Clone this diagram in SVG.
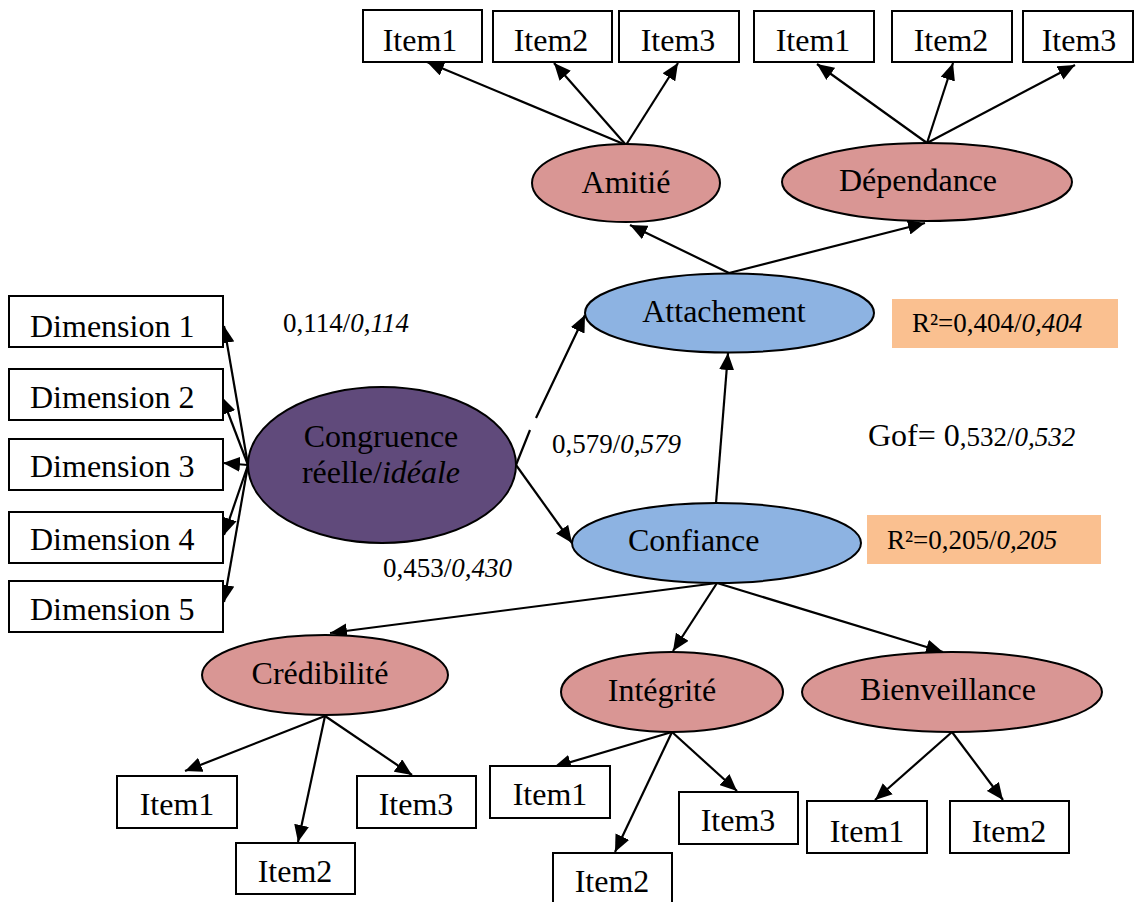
<svg xmlns="http://www.w3.org/2000/svg" width="1135" height="902" viewBox="0 0 1135 902">
<style>
text{font-family:"Liberation Serif","Times New Roman",serif;fill:#000}
.box{fill:#fff;stroke:#000;stroke-width:2}
.ell{stroke:#000;stroke-width:2}
.pink{fill:#D99694}
.blue{fill:#8DB3E2}
.purple{fill:#604A7B}
.r2{fill:#FAC090}
.t{font-size:32px;text-anchor:middle}
.ts{font-size:32px}
.lbl{font-size:27px}
.it{font-style:italic}
.con{fill:none;stroke:#000;stroke-width:2.2;marker-end:url(#ah)}
</style>
<defs>
<marker id="ah" markerUnits="userSpaceOnUse" markerWidth="18" markerHeight="15" refX="17" refY="7.5" orient="auto">
<path d="M0,0 L17,7.5 L0,15 z" fill="#000"/>
</marker>
</defs>
<rect width="1135" height="902" fill="#fff"/>
<g id="connectors">
<line class="con" x1="626" y1="145" x2="427" y2="62"/>
<line class="con" x1="626" y1="145" x2="554" y2="63"/>
<line class="con" x1="626" y1="145" x2="678" y2="63"/>
<line class="con" x1="927" y1="143" x2="817" y2="64"/>
<line class="con" x1="927" y1="143" x2="953" y2="63"/>
<line class="con" x1="927" y1="143" x2="1075" y2="65"/>
<line class="con" x1="729" y1="273" x2="630" y2="225"/>
<line class="con" x1="729" y1="273" x2="925" y2="223"/>
<path class="con" d="M516,465 L530,430 M536,418 L585,315"/>
<line class="con" x1="516" y1="465" x2="572" y2="543"/>
<line class="con" x1="716" y1="503" x2="728" y2="353"/>
<line class="con" x1="248" y1="465" x2="224" y2="326"/>
<line class="con" x1="248" y1="465" x2="222" y2="397"/>
<line class="con" x1="248" y1="465" x2="223" y2="463"/>
<line class="con" x1="248" y1="465" x2="224" y2="535"/>
<line class="con" x1="248" y1="465" x2="224" y2="602"/>
<line class="con" x1="717" y1="583" x2="330" y2="633"/>
<line class="con" x1="717" y1="583" x2="673" y2="651"/>
<line class="con" x1="717" y1="583" x2="943" y2="652"/>
<line class="con" x1="325" y1="716" x2="185" y2="771"/>
<line class="con" x1="325" y1="716" x2="298" y2="842"/>
<line class="con" x1="325" y1="716" x2="412" y2="775"/>
<line class="con" x1="672" y1="732" x2="554" y2="767"/>
<line class="con" x1="672" y1="732" x2="615" y2="852"/>
<line class="con" x1="672" y1="732" x2="737" y2="791"/>
<line class="con" x1="952" y1="732" x2="875" y2="800"/>
<line class="con" x1="952" y1="732" x2="1003" y2="800"/>
</g>
<g id="amitie-item1"><rect class="box" x="363" y="10" width="119" height="52"/><text class="t" x="420" y="51">Item1</text></g>
<g id="amitie-item2"><rect class="box" x="493" y="11" width="119" height="51"/><text class="t" x="551" y="51">Item2</text></g>
<g id="amitie-item3"><rect class="box" x="619" y="11" width="120" height="51"/><text class="t" x="678" y="51">Item3</text></g>
<g id="dep-item1"><rect class="box" x="754" y="11" width="120" height="51"/><text class="t" x="813" y="51">Item1</text></g>
<g id="dep-item2"><rect class="box" x="892" y="11" width="120" height="51"/><text class="t" x="951" y="51">Item2</text></g>
<g id="dep-item3"><rect class="box" x="1023" y="11" width="110" height="51"/><text class="t" x="1079" y="51">Item3</text></g>
<g id="amitie"><ellipse class="ell pink" cx="626" cy="183" rx="94" ry="39"/><text class="t" x="626" y="193">Amitié</text></g>
<g id="dependance"><ellipse class="ell pink" cx="927" cy="182" rx="145" ry="39"/><text class="t" x="918" y="191">Dépendance</text></g>
<g id="attachement"><ellipse class="ell blue" cx="729.5" cy="313" rx="144.5" ry="39.5"/><text class="t" x="724" y="322">Attachement</text></g>
<g id="r2-attachement"><rect class="r2" x="892" y="299" width="226" height="49"/><text class="lbl" x="912" y="332">R²=0,404/<tspan class="it">0,404</tspan></text></g>
<g id="confiance"><ellipse class="ell blue" cx="716.5" cy="543" rx="144.5" ry="40"/><text class="ts" x="628" y="551">Confiance</text></g>
<g id="r2-confiance"><rect class="r2" x="867" y="515" width="234" height="49"/><text class="lbl" x="887" y="549">R²=0,205/<tspan class="it">0,205</tspan></text></g>
<g id="congruence"><ellipse class="ell purple" cx="382" cy="465" rx="134" ry="78"/><text class="t" x="381" y="447">Congruence</text><text class="t" x="381" y="483">réelle/<tspan class="it">idéale</tspan></text></g>
<g id="dim1"><rect class="box" x="9" y="296" width="214" height="51"/><text class="ts" x="30" y="337">Dimension 1</text></g>
<g id="dim2"><rect class="box" x="9" y="369" width="214" height="51"/><text class="ts" x="30" y="408">Dimension 2</text></g>
<g id="dim3"><rect class="box" x="9" y="439" width="214" height="51"/><text class="ts" x="30" y="477">Dimension 3</text></g>
<g id="dim4"><rect class="box" x="9" y="512" width="214" height="51"/><text class="ts" x="30" y="550">Dimension 4</text></g>
<g id="dim5"><rect class="box" x="9" y="581" width="214" height="51"/><text class="ts" x="30" y="620">Dimension 5</text></g>
<g id="labels">
<text class="lbl" x="283" y="332">0,114/<tspan class="it">0,114</tspan></text>
<text class="lbl" x="552" y="453">0,579/<tspan class="it">0,579</tspan></text>
<text class="lbl" x="383" y="577">0,453/<tspan class="it">0,430</tspan></text>
<text x="868" y="446"><tspan font-size="32">Gof= 0</tspan><tspan font-size="27">,532/</tspan><tspan font-size="27" font-style="italic">0,532</tspan></text>
</g>
<g id="credibilite"><ellipse class="ell pink" cx="325" cy="675" rx="123" ry="40"/><text class="t" x="320" y="684">Crédibilité</text></g>
<g id="integrite"><ellipse class="ell pink" cx="672" cy="692" rx="111" ry="40"/><text class="t" x="662" y="701">Intégrité</text></g>
<g id="bienveillance"><ellipse class="ell pink" cx="952" cy="692" rx="150" ry="40"/><text class="t" x="948" y="700">Bienveillance</text></g>
<g id="cred-item1"><rect class="box" x="117" y="776" width="120" height="52"/><text class="t" x="177" y="815">Item1</text></g>
<g id="cred-item2"><rect class="box" x="236" y="843" width="119" height="51"/><text class="t" x="295" y="882">Item2</text></g>
<g id="cred-item3"><rect class="box" x="357" y="776" width="119" height="52"/><text class="t" x="416" y="815">Item3</text></g>
<g id="int-item1"><rect class="box" x="490" y="766" width="120" height="52"/><text class="t" x="550" y="805">Item1</text></g>
<g id="int-item2"><rect class="box" x="553" y="853" width="119" height="52"/><text class="t" x="612" y="892">Item2</text></g>
<g id="int-item3"><rect class="box" x="679" y="792" width="119" height="52"/><text class="t" x="738" y="831">Item3</text></g>
<g id="bien-item1"><rect class="box" x="807" y="801" width="120" height="52"/><text class="t" x="867" y="842">Item1</text></g>
<g id="bien-item2"><rect class="box" x="950" y="801" width="119" height="52"/><text class="t" x="1009" y="842">Item2</text></g>
</svg>
